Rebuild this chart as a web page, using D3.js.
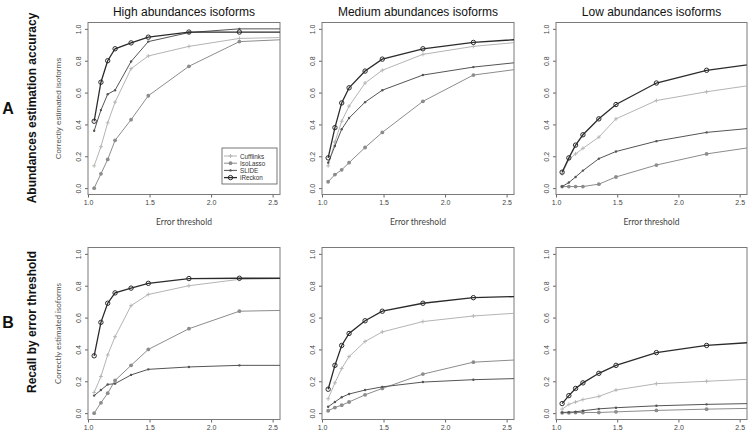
<!DOCTYPE html>
<html><head><meta charset="utf-8">
<script src="https://cdn.jsdelivr.net/npm/d3@7"></script>
<style>body{margin:0;background:#fff}svg{display:block}</style>
</head><body>
<svg id="c" width="753" height="435"></svg>
<script>
const thresholds = [1.05, 1.105, 1.16, 1.22, 1.35, 1.49, 1.82, 2.23, 2.72];
const xTicks = [1.0, 1.5, 2.0, 2.5];
const yTicks = [0.0, 0.2, 0.4, 0.6, 0.8, 1.0];
const methods = ["Cufflinks", "IsoLasso", "SLIDE", "iReckon"];
const panelTitles = ["High abundances isoforms", "Medium abundances isoforms", "Low abundances isoforms"];
const rowTitles = ["Abundances estimation accuracy", "Recall by error threshold"];
const rowLetters = ["A", "B"];

// Row A: accuracy
const accHighCufflinks = [0.14, 0.26, 0.41, 0.54, 0.75, 0.83, 0.89, 0.94, 0.948];
const accHighIsoLasso  = [0.00, 0.09, 0.18, 0.30, 0.43, 0.58, 0.765, 0.92, 0.937];
const accHighSLIDE     = [0.36, 0.49, 0.59, 0.615, 0.795, 0.92, 0.977, 1.0, 1.0];
const accHighiReckon   = [0.42, 0.665, 0.80, 0.875, 0.912, 0.948, 0.98, 0.98, 0.98];

const accMedCufflinks = [0.14, 0.29, 0.42, 0.515, 0.66, 0.74, 0.84, 0.89, 0.925];
const accMedIsoLasso  = [0.04, 0.085, 0.115, 0.16, 0.255, 0.35, 0.545, 0.71, 0.76];
const accMedSLIDE     = [0.16, 0.265, 0.37, 0.44, 0.54, 0.615, 0.71, 0.76, 0.80];
const accMedIReckon   = [0.19, 0.38, 0.535, 0.63, 0.735, 0.81, 0.875, 0.915, 0.94];

const accLowCufflinks = [0.09, 0.18, 0.215, 0.25, 0.32, 0.435, 0.55, 0.605, 0.66];
const accLowIsoLasso  = [0.01, 0.01, 0.01, 0.01, 0.025, 0.07, 0.145, 0.215, 0.27];
const accLowSLIDE     = [0.01, 0.035, 0.07, 0.11, 0.185, 0.23, 0.295, 0.35, 0.385];
const accLowIReckon   = [0.10, 0.19, 0.27, 0.335, 0.435, 0.525, 0.66, 0.74, 0.79];

// Row B: recall
const recHighCufflinks = [0.13, 0.23, 0.365, 0.48, 0.675, 0.745, 0.80, 0.84, 0.847];
const recHighIsoLasso  = [0.00, 0.065, 0.125, 0.205, 0.30, 0.40, 0.53, 0.64, 0.647];
const recHighSLIDE     = [0.11, 0.145, 0.18, 0.185, 0.24, 0.275, 0.29, 0.30, 0.30];
const recHighIReckon   = [0.36, 0.57, 0.69, 0.755, 0.785, 0.815, 0.845, 0.847, 0.847];

const recMedCufflinks = [0.09, 0.19, 0.28, 0.355, 0.45, 0.51, 0.575, 0.61, 0.635];
const recMedIsoLasso  = [0.015, 0.035, 0.05, 0.07, 0.115, 0.155, 0.245, 0.32, 0.34];
const recMedSLIDE     = [0.04, 0.07, 0.10, 0.12, 0.145, 0.165, 0.195, 0.21, 0.22];
const recMedIReckon   = [0.15, 0.30, 0.425, 0.50, 0.58, 0.64, 0.69, 0.725, 0.735];

const recLowCufflinks = [0.025, 0.055, 0.07, 0.085, 0.105, 0.145, 0.185, 0.20, 0.218];
const recLowIsoLasso  = [0.002, 0.002, 0.004, 0.004, 0.004, 0.008, 0.017, 0.025, 0.032];
const recLowSLIDE     = [0.004, 0.006, 0.008, 0.015, 0.027, 0.034, 0.046, 0.055, 0.062];
const recLowIReckon   = [0.06, 0.11, 0.155, 0.19, 0.25, 0.30, 0.38, 0.425, 0.45];

const grid = [
  [[accHighCufflinks, accHighIsoLasso, accHighSLIDE, accHighiReckon],
   [accMedCufflinks, accMedIsoLasso, accMedSLIDE, accMedIReckon],
   [accLowCufflinks, accLowIsoLasso, accLowSLIDE, accLowIReckon]],
  [[recHighCufflinks, recHighIsoLasso, recHighSLIDE, recHighIReckon],
   [recMedCufflinks, recMedIsoLasso, recMedSLIDE, recMedIReckon],
   [recLowCufflinks, recLowIsoLasso, recLowSLIDE, recLowIReckon]]
];

const styles = {
  Cufflinks: {color: "#b4b4b4", width: 1.0, marker: "plus"},
  IsoLasso:  {color: "#8c8c8c", width: 1.0, marker: "dot"},
  SLIDE:     {color: "#555555", width: 1.0, marker: "small"},
  iReckon:   {color: "#2b2b2b", width: 1.3, marker: "open"}
};

const svg = d3.select("#c");
svg.append("rect").attr("width", 753).attr("height", 435).attr("fill", "#fff");

const colX = [88, 322, 556];
const panelW = 192;
const rowY = [22.5, 247.5];
const panelH = 172;

function drawMarker(g, type, color, x, y) {
  if (type === "plus") {
    g.append("path").attr("d", `M${x-2},${y}H${x+2}M${x},${y-2}V${y+2}`)
      .attr("stroke", color).attr("stroke-width", 0.9).attr("fill", "none");
  } else if (type === "dot") {
    g.append("circle").attr("cx", x).attr("cy", y).attr("r", 1.9).attr("fill", color);
  } else if (type === "small") {
    g.append("circle").attr("cx", x).attr("cy", y).attr("r", 1.2).attr("fill", color);
  } else {
    g.append("circle").attr("cx", x).attr("cy", y).attr("r", 2.2)
      .attr("fill", "none").attr("stroke", color).attr("stroke-width", 1);
  }
}

grid.forEach((row, r) => {
  row.forEach((series, c) => {
    const x0 = colX[c], y0 = rowY[r];
    const w = c === 2 ? 191 : panelW;
    const x = d3.scaleLinear().domain([1.0, 2.56]).range([x0, x0 + w]);
    const y = d3.scaleLinear().domain([-0.04, 1.04]).range([y0 + panelH, y0]);
    const g = svg.append("g");
    const clipId = `clip${r}${c}`;
    g.append("clipPath").attr("id", clipId).append("rect")
      .attr("x", x0).attr("y", y0).attr("width", w).attr("height", panelH);

    const xa = g.append("g").attr("transform", `translate(0,${y0 + panelH})`)
      .call(d3.axisBottom(x).tickValues(xTicks).tickFormat(d3.format(".1f")).tickSize(3).tickPadding(3));
    xa.select(".domain").remove();
    xa.selectAll("line").attr("stroke", "#666");
    xa.selectAll("text").attr("font-family", "Liberation Sans, Arial, sans-serif").attr("font-size", 7).attr("fill", "#444");

    const ya = g.append("g").attr("transform", `translate(${x0},0)`)
      .call(d3.axisLeft(y).tickValues(yTicks).tickFormat(d3.format(".1f")).tickSize(3).tickPadding(0));
    ya.select(".domain").remove();
    ya.selectAll("line").attr("stroke", "#666");
    ya.selectAll("text")
      .attr("font-family", "Liberation Sans, Arial, sans-serif").attr("font-size", 7).attr("fill", "#444")
      .attr("text-anchor", "middle").attr("dy", null).attr("x", null)
      .attr("transform", "translate(-10,0) rotate(-90)").attr("dominant-baseline", "central");

    g.append("rect").attr("x", x0).attr("y", y0).attr("width", w).attr("height", panelH)
      .attr("fill", "none").attr("stroke", "#7a7a7a").attr("stroke-width", 1);

    const plot = g.append("g").attr("clip-path", `url(#${clipId})`);
    const line = d3.line().x((d, i) => x(thresholds[i])).y(d => y(d));
    series.forEach((vals, k) => {
      const st = styles[methods[k]];
      plot.append("path").datum(vals).attr("d", line)
        .attr("fill", "none").attr("stroke", st.color).attr("stroke-width", st.width);
      vals.forEach((v, i) => drawMarker(plot, st.marker, st.color, x(thresholds[i]), y(v)));
    });

    if (r === 0) {
      svg.append("text").attr("x", x0 + w / 2).attr("y", 16).attr("text-anchor", "middle")
        .attr("font-family", "Liberation Sans, Arial, sans-serif").attr("font-size", 12).attr("fill", "#111")
        .text(panelTitles[c]);
      svg.append("text").attr("x", x0 + w / 2).attr("y", 225).attr("text-anchor", "middle")
        .attr("font-family", "Lato, Open Sans, sans-serif").attr("font-size", 8.5).attr("fill", "#444")
        .text("Error threshold");
    }
    if (c === 0) {
      svg.append("text").attr("transform", `translate(61,${y0 + panelH / 2}) rotate(-90)`)
        .attr("text-anchor", "middle")
        .attr("font-family", r === 0 ? "Liberation Sans, Arial, sans-serif" : "Lato, Open Sans, sans-serif")
        .attr("font-size", 8).attr("fill", "#555")
        .text("Correctly estimated isoforms");
    }
  });
});

[108, 322].forEach((cy, r) => {
  svg.append("text").attr("transform", `translate(36,${cy}) rotate(-90)`)
    .attr("text-anchor", "middle").attr("font-family", "Liberation Sans, Arial, sans-serif")
    .attr("font-size", 12).attr("font-weight", "bold").attr("fill", "#111")
    .text(rowTitles[r]);
  svg.append("text").attr("x", 8).attr("y", cy + 6).attr("text-anchor", "middle")
    .attr("font-family", "Liberation Sans, Arial, sans-serif")
    .attr("font-size", 16).attr("font-weight", "bold").attr("fill", "#111")
    .text(rowLetters[r]);
});

const lg = svg.append("g");
lg.append("rect").attr("x", 222).attr("y", 148).attr("width", 55).attr("height", 36)
  .attr("fill", "#fff").attr("stroke", "#555").attr("stroke-width", 0.8);
methods.forEach((m, i) => {
  const st = styles[m];
  const ly = 156 + i * 7.2;
  lg.append("line").attr("x1", 224).attr("x2", 237).attr("y1", ly).attr("y2", ly)
    .attr("stroke", st.color).attr("stroke-width", st.width);
  drawMarker(lg, st.marker, st.color, 230.5, ly);
  lg.append("text").attr("x", 240).attr("y", ly).attr("dominant-baseline", "central")
    .attr("font-family", "Liberation Sans, Arial, sans-serif").attr("font-size", 6.3).attr("fill", "#333")
    .text(m);
});
</script>
</body></html>
